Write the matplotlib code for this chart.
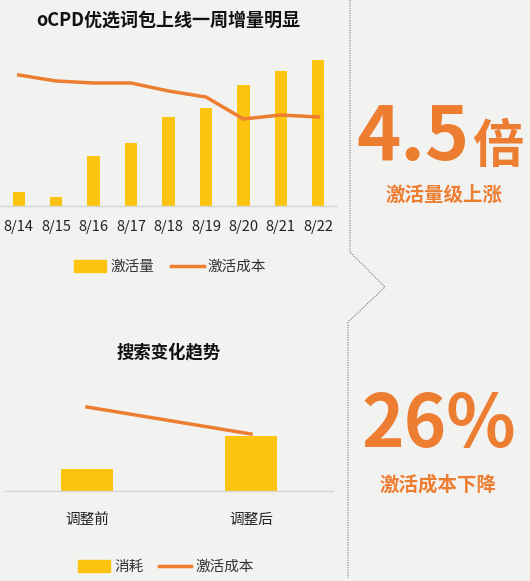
import matplotlib
matplotlib.use('Agg')
import matplotlib.pyplot as plt
from matplotlib.patches import Patch
from matplotlib.lines import Line2D

plt.rcParams['font.family'] = ['Noto Sans CJK SC', 'DejaVu Sans']

# top chart: daily activations (bars) and activation cost (line)
days = ['8/14', '8/15', '8/16', '8/17', '8/18', '8/19', '8/20', '8/21', '8/22']
activations = [14, 9, 50, 63, 89, 98, 121, 135, 146]
act_cost = [131, 125, 123, 123, 115, 109, 87, 91, 89]

# bottom chart: spend before/after adjustment and activation cost
stages = ['调整前', '调整后']
spend = [22, 55]
stage_cost = [84, 57]

gold = '#FCC30F'
orange = '#ED7D31'
bg = '#F2F2F1'
W, H = 530, 581

fig = plt.figure(figsize=(W / 100, H / 100), dpi=100, facecolor=bg)


def box(x0, y0, x1, y1):
    # pixel box (top-left origin) -> figure fraction rect
    return [x0 / W, 1 - y1 / H, (x1 - x0) / W, (y1 - y0) / H]


def style(ax):
    ax.set_facecolor('none')
    for s in ['top', 'right', 'left']:
        ax.spines[s].set_visible(False)
    ax.spines['bottom'].set_color('#D6D6D6')
    ax.spines['bottom'].set_linewidth(1)
    ax.set_yticks([])
    ax.tick_params(axis='x', length=0, colors='#222222')


# ---- top chart
ax1 = fig.add_axes(box(0, 46, 337, 206))
style(ax1)
x = range(len(days))
ax1.bar(x, activations, width=0.33, color=gold, zorder=2)
ax1.plot(x, act_cost, color=orange, linewidth=2.5, zorder=3)
ax1.set_xlim(-0.5, len(days) - 0.5)
ax1.set_ylim(0, 160)
ax1.set_xticks(list(x))
ax1.set_xticklabels(days, fontsize=10.5)
ax1.tick_params(axis='x', pad=10)

fig.text(168 / W, 1 - 20 / H, 'oCPD优选词包上线一周增量明显', ha='center', va='center',
         fontsize=13, fontweight='bold', color='#111111')

h1 = [Patch(color=gold), Line2D([0], [0], color=orange, linewidth=2.5)]
fig.legend(h1, ['激活量', '激活成本'], loc='center', bbox_to_anchor=(170 / W, 1 - 267 / H),
           ncol=2, frameon=False, fontsize=10.5, handlelength=2.2, handleheight=0.8,
           columnspacing=1.2, handletextpad=0.3, labelcolor='#333333')

# ---- bottom chart
ax2 = fig.add_axes(box(5, 391, 333, 491))
style(ax2)
x2 = range(len(stages))
ax2.bar(x2, spend, width=0.32, color=gold, zorder=2)
ax2.plot(x2, stage_cost, color=orange, linewidth=2.5, zorder=3)
ax2.set_xlim(-0.5, len(stages) - 0.5)
ax2.set_ylim(0, 100)
ax2.set_xticks(list(x2))
ax2.set_xticklabels(stages, fontsize=10.5)
ax2.tick_params(axis='x', pad=16)

fig.text(169 / W, 1 - 352 / H, '搜索变化趋势', ha='center', va='center',
         fontsize=12.5, fontweight='bold', color='#111111')

h2 = [Patch(color=gold), Line2D([0], [0], color=orange, linewidth=2.5)]
fig.legend(h2, ['消耗', '激活成本'], loc='center', bbox_to_anchor=(166 / W, 1 - 567 / H),
           ncol=2, frameon=False, fontsize=10.5, handlelength=2.2, handleheight=0.8,
           columnspacing=1.0, handletextpad=0.3, labelcolor='#333333')

# ---- divider with chevron
fig.add_artist(Line2D([350 / W, 350 / W, 385 / W, 348 / W, 348 / W],
                      [1, 1 - 252 / H, 1 - 287 / H, 1 - 322 / H, 1 - 578 / H],
                      color='#8C8C8C', linewidth=0.9, linestyle=(0, (1, 1))))

# ---- big numbers
fig.text(469 / W, 1 - 160 / H, '4.5', ha='right', va='baseline', fontsize=54,
         fontweight='bold', color=orange)
fig.text(472 / W, 1 - 162 / H, '倍', ha='left', va='baseline', fontsize=37,
         fontweight='bold', color=orange)
fig.text(444 / W, 1 - 195 / H, '激活量级上涨', ha='center', va='center', fontsize=14,
         fontweight='bold', color=orange)

fig.text(439 / W, 1 - 447 / H, '26%', ha='center', va='baseline', fontsize=52,
         fontweight='bold', color=orange)
fig.text(438 / W, 1 - 485 / H, '激活成本下降', ha='center', va='center', fontsize=14,
         fontweight='bold', color=orange)

fig.savefig('out.png', dpi=100, facecolor=bg)
